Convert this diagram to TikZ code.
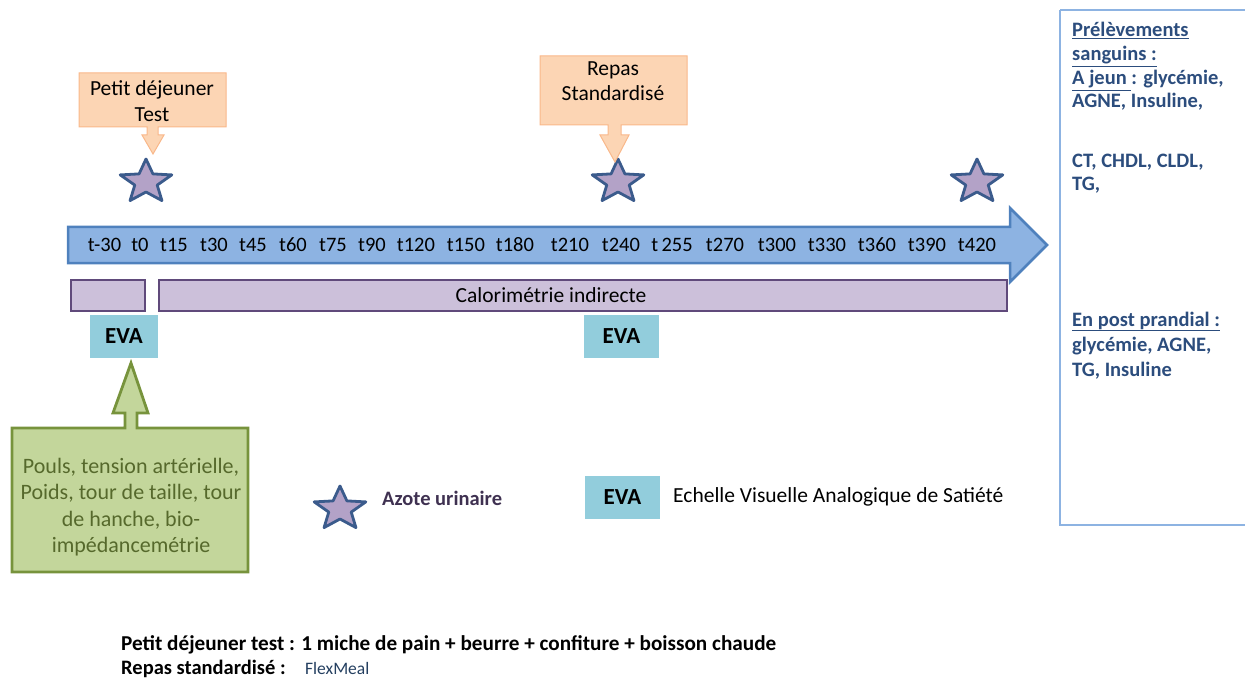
\documentclass[tikz,border=0pt]{standalone}
\usepackage{fontspec}
\setmainfont{Carlito}
\usetikzlibrary{shapes.geometric}
\definecolor{tlfill}{HTML}{8DB3E2}
\definecolor{tldraw}{HTML}{4F81BD}
\definecolor{purfill}{HTML}{CCC0DA}
\definecolor{purdraw}{HTML}{604A7B}
\definecolor{evafill}{HTML}{92CDDC}
\definecolor{orfill}{HTML}{FCD5B4}
\definecolor{ordraw}{HTML}{F9B88A}
\definecolor{grfill}{HTML}{C3D69B}
\definecolor{grdraw}{HTML}{77933C}
\definecolor{grtext}{HTML}{56692C}
\definecolor{stfill}{HTML}{B3A2C7}
\definecolor{stdraw}{HTML}{3B5B8C}
\definecolor{bluetext}{HTML}{2C4D7D}
\definecolor{azote}{HTML}{3F3151}
\definecolor{flex}{HTML}{243F60}
\tikzset{
  starnode/.style={star, star points=5, star point ratio=2.3, minimum size=46pt, inner sep=0pt,
    fill=stfill, draw=stdraw, line width=2.8pt, line join=round, xscale=1.18, transform shape},
  evabox/.style={fill=evafill, draw=none, minimum width=#1, minimum height=43pt, inner sep=0pt,
    font=\fontsize{23}{26}\selectfont\bfseries},
  purbox/.style={fill=purfill, draw=purdraw, line width=2.8pt},
  txt/.style={inner sep=0pt, font=\fontsize{21.5}{25.5}\selectfont},
  tlab/.style={inner sep=0pt, font=\fontsize{20.5}{23}\selectfont},
  rt/.style={inner sep=0pt, anchor=base west, text=bluetext, font=\fontsize{20.5}{24}\selectfont\bfseries},
  note/.style={inner sep=0pt, anchor=base west, font=\fontsize{20.5}{24}\selectfont\bfseries},
}
\begin{document}
\begin{tikzpicture}[x=1pt,y=-1pt]
\useasboundingbox (0,0) rectangle (1245,679);
% timeline arrow
\draw[fill=tlfill, draw=tldraw, line width=2.5pt, line join=miter]
  (68,227) -- (1010,227) -- (1010,208) -- (1047,245) -- (1010,282) -- (1010,263) -- (68,263) -- cycle;
\foreach \x/\t [count=\i] in {104.5/t-30, 140/t0, 174/t15, 214/t30, 253/t45, 293/t60, 333/t75, 372/t90,
  416/t120, 466/t150, 515/t180, 570/t210, 621/t240, 672/t\,255, 725/t270, 777/t300, 827/t330,
  877/t360, 927/t390, 977/t420}
  \node[tlab] (t\i) at (\x,245) {\t};
% calorimetry boxes
\draw[purbox] (71,280) rectangle (145,311);
\draw[purbox] (159,280) rectangle (1007,311);
\node[txt] (calo) at (551,295) {Calorimétrie indirecte};
% EVA boxes
\node[evabox=68pt] (eva1) at (124,336) {EVA};
\node[evabox=75pt] (eva2) at (621.5,336) {EVA};
% stars
\node[starnode] (s1) at (146,182) {};
\node[starnode] (s2) at (618,182) {};
\node[starnode] (s3) at (977,182) {};
% orange callouts
\draw[fill=orfill, draw=ordraw, line width=1pt]
  (79,73) -- (226,73) -- (226,127) -- (158,127) -- (158,135) -- (164,135) -- (153,154) -- (142,135) -- (147,135) -- (147,127) -- (79,127) -- cycle;
\node[txt, align=center] (pdj) at (152,101) {Petit déjeuner\\Test};
\draw[fill=orfill, draw=ordraw, line width=1pt]
  (540,56) -- (687,56) -- (687,125) -- (621,125) -- (621,135) -- (629,135) -- (615,162) -- (600,135) -- (608,135) -- (608,125) -- (540,125) -- cycle;
\node[txt, align=center] (rs) at (613,81) {Repas\\Standardisé};
% green callout
\draw[fill=grfill, draw=grdraw, line width=2.8pt, line join=miter]
  (12,428) -- (125,428) -- (125,413) -- (113,413) -- (131,363) -- (148,413) -- (137,413) -- (137,428) -- (248,428) -- (248,572) -- (12,572) -- cycle;
\node[txt, align=center, text=grtext, font=\fontsize{22}{26.3}\selectfont] (meas) at (131,507) {Pouls, tension artérielle,\\Poids, tour de taille, tour\\de hanche, bio-\\impédancemétrie};
% legend
\node[starnode] (ls) at (340,509) {};
\node[txt, anchor=west, text=azote, font=\fontsize{20.5}{24}\selectfont\bfseries] (lsl) at (382,498) {Azote urinaire};
\node[evabox=75pt] (leva) at (622.5,497) {EVA};
\node[txt, anchor=west] (leval) at (673,497) {Echelle Visuelle Analogique de Satiété};
% right box
\draw[draw=tlfill, line width=2pt] (1060,10) -- (1250,10) (1250,525) -- (1060,525) -- (1060,10);
\node[rt] (r1) at (1072,37) {\underline{Prélèvements}};
\node[rt] (r2) at (1072,61) {\underline{sanguins :}};
\node[rt] (r3) at (1072,85) {\underline{A jeun }: glycémie,};
\node[rt] (r4) at (1072,108) {AGNE, Insuline,};
\node[rt] (r5) at (1072,168) {CT, CHDL, CLDL,};
\node[rt] (r6) at (1072,191) {TG,};
\node[rt] (r7) at (1072,326) {\underline{En post prandial :}};
\node[rt] (r8) at (1072,351) {glycémie, AGNE,};
\node[rt] (r9) at (1072,376) {TG, Insuline};
% bottom notes
\node[note, font=\fontsize{21.2}{24}\selectfont\bfseries] (n1) at (121,650) {Petit déjeuner test : 1 miche de pain + beurre + confiture + boisson chaude};
\node[note] (n2) at (121,674) {Repas standardisé :};
\node[inner sep=0pt, anchor=base west, text=flex, font=\fontsize{17.5}{20}\selectfont] (n3) at (305,674) {FlexMeal};
\end{tikzpicture}
\end{document}
